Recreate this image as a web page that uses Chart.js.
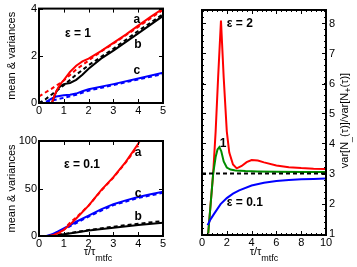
<!DOCTYPE html>
<html lang="en">
<head>
<meta charset="UTF-8">
<title>Mean, variances and variance ratio</title>
<script src="https://cdn.jsdelivr.net/npm/chart.js"></script>
<style>
    body { margin: 0; padding: 0; background: #fff; }
    canvas { position: absolute; }
</style>
</head>
<body>
<canvas id="topLeft" width="175" height="125" style="left:0;top:0"></canvas>
<canvas id="bottomLeft" width="175" height="142" style="left:0;top:125px"></canvas>
<canvas id="right" width="177" height="267" style="left:180px;top:0"></canvas>

<script>
// tick values
const leftTicksX = [0, 1, 2, 3, 4, 5];
const topTicksY = [0, 2, 4];
const bottomTicksY = [0, 50, 100];
const rightTicksX = [0, 2, 4, 6, 8, 10];
const rightTicksY = [1, 2, 3, 4, 5, 6, 7, 8];

// eps = 1 (top left)
const e1_aX = [0.52, 0.6, 0.7, 0.8, 0.9, 1.0, 1.25, 1.5, 1.75, 2.0, 2.5, 3.0, 3.5, 4.0, 4.5, 5.0];
const e1_aY = [0, 0.25, 0.5, 0.7, 0.85, 0.97, 1.32, 1.58, 1.76, 1.88, 2.2, 2.55, 2.9, 3.28, 3.65, 4.0];
const e1_aDashX = [0, 0.5, 1.0, 1.5, 2.0, 2.5, 3.0, 4.0, 5.0];
const e1_aDashY = [0.28, 0.6, 0.95, 1.42, 1.8, 2.18, 2.52, 3.22, 3.95];
const e1_bX = [0.52, 0.6, 0.7, 0.8, 0.9, 1.0, 1.25, 1.5, 1.75, 2.0, 2.5, 3.0, 4.0, 5.0];
const e1_bY = [0, 0.25, 0.48, 0.65, 0.74, 0.8, 0.85, 0.98, 1.2, 1.45, 1.88, 2.22, 2.95, 3.69];
const e1_bDashX = [0, 0.25, 0.5, 0.75, 1.0, 1.5, 2.0, 3.0, 4.0, 5.0];
const e1_bDashY = [0, 0.15, 0.35, 0.55, 0.75, 1.2, 1.6, 2.3, 3.05, 3.76];
const e1_cX = [0.3, 0.5, 0.7, 1.0, 1.25, 1.5, 1.75, 2.0, 3.0, 4.0, 5.0];
const e1_cY = [0.05, 0.18, 0.28, 0.33, 0.35, 0.4, 0.5, 0.58, 0.8, 1.04, 1.28];
const e1_cDashX = [0, 0.5, 1.0, 1.5, 2.0, 3.0, 4.0, 5.0];
const e1_cDashY = [0, 0.1, 0.22, 0.35, 0.52, 0.76, 1.0, 1.23];

// eps = 0.1 (bottom left)
const e01_aX = [0.4, 0.6, 0.8, 1.0, 1.25, 1.5, 2.0, 2.5, 3.0, 3.5, 4.0, 4.06];
const e01_aY = [0, 1.2, 3.5, 6.5, 12, 18.5, 32, 48, 62, 78, 97, 100];
const e01_aDashX = [0.78, 1.0, 1.25, 1.5, 2.0, 2.5, 3.0, 3.5, 4.0];
const e01_aDashY = [0, 7, 14, 19.5, 32, 47.5, 61.5, 77.5, 95];
const e01_cX = [0.3, 0.5, 0.75, 1.0, 1.5, 2.0, 2.5, 3.0, 3.5, 4.0, 4.5, 5.0];
const e01_cY = [0, 1.5, 4.5, 8, 15, 21.5, 28, 33.5, 37.5, 41, 44, 46.5];
const e01_cDashX = [0.4, 1.0, 1.5, 2.0, 3.0, 4.0, 5.0];
const e01_cDashY = [0, 7, 13.5, 20.5, 32.5, 40, 45.5];
const e01_bX = [0.35, 0.75, 1.0, 1.5, 2.0, 3.0, 4.0, 5.0];
const e01_bY = [0, 0.8, 1.8, 3.8, 5.8, 8.8, 11.5, 14];
const e01_bDashX = [0.5, 1.0, 2.0, 3.0, 4.0, 5.0];
const e01_bDashY = [0, 2, 6.3, 9.8, 12.9, 15.8];

// variance ratio (right)
const r2X = [0.5, 0.7, 0.9, 1.1, 1.3, 1.53, 1.75, 2.0, 2.2, 2.5, 2.8, 3.2, 3.6, 4.0, 4.5, 5, 6, 7, 8, 9, 10];
const r2Y = [1.0, 2.0, 3.0, 4.4, 6.2, 8.1, 6.2, 4.4, 3.7, 3.3, 3.17, 3.25, 3.38, 3.45, 3.43, 3.37, 3.27, 3.21, 3.18, 3.16, 3.15];
const r1X = [0.5, 0.7, 0.9, 1.1, 1.25, 1.4, 1.55, 1.75, 2.0, 2.3, 2.7, 3.5, 4.5, 6, 8, 10];
const r1Y = [1.0, 2.0, 3.0, 3.55, 3.8, 3.88, 3.75, 3.4, 3.2, 3.13, 3.1, 3.08, 3.07, 3.06, 3.05, 3.05];
const r01X = [0.45, 0.7, 1.0, 1.5, 2.0, 2.5, 3.0, 4.0, 5.0, 6.0, 7.0, 8.0, 9.0, 10];
const r01Y = [1.28, 1.48, 1.67, 1.98, 2.18, 2.33, 2.44, 2.6, 2.69, 2.75, 2.78, 2.81, 2.82, 2.83];
const refX = [0, 10];
const refY = [3, 3];

const FONT = '"Liberation Sans", Arial, sans-serif';
Chart.defaults.font.family = FONT;
Chart.defaults.color = '#000';

function pts(xs, ys) {
    return xs.map((x, i) => ({ x: x, y: ys[i] }));
}

function line(xs, ys, color, dashed) {
    return {
        data: pts(xs, ys),
        borderColor: color,
        borderWidth: 2,
        borderDash: dashed ? [4, 3] : [],
        pointRadius: 0,
        fill: false,
        tension: 0
    };
}

function fixTicks(vals) {
    return function (scale) { scale.ticks = vals.map(v => ({ value: v })); };
}

// draws frame, inward tick marks, in-plot labels and axis titles
function overlay(cfg) {
    return {
        id: 'overlay',
        afterDraw(chart) {
            const ctx = chart.ctx, a = chart.chartArea;
            const sx = chart.scales.x, sy = chart.scales.y;
            ctx.save();
            ctx.strokeStyle = '#000';
            ctx.lineWidth = 1;

            function tickX(v, len) {
                const p = Math.round(sx.getPixelForValue(v)) + 0.5;
                ctx.beginPath();
                ctx.moveTo(p, a.bottom); ctx.lineTo(p, a.bottom - len);
                ctx.moveTo(p, a.top); ctx.lineTo(p, a.top + len);
                ctx.stroke();
            }
            function tickY(v, len) {
                const p = Math.round(sy.getPixelForValue(v)) + 0.5;
                ctx.beginPath();
                ctx.moveTo(a.left, p); ctx.lineTo(a.left + len, p);
                ctx.moveTo(a.right, p); ctx.lineTo(a.right - len, p);
                ctx.stroke();
            }
            if (cfg.minorX) {
                for (let v = sx.min; v <= sx.max + 1e-9; v += cfg.minorX) tickX(v, 2);
            }
            if (cfg.minorY) {
                for (let v = Math.ceil(sy.min / cfg.minorY) * cfg.minorY; v <= sy.max + 1e-9; v += cfg.minorY) tickY(v, 2);
            }
            cfg.ticksX.forEach(v => tickX(v, 4));
            cfg.ticksY.forEach(v => tickY(v, 4));

            ctx.lineWidth = 2;
            ctx.strokeRect(a.left, a.top, a.right - a.left, a.bottom - a.top);

            // labels placed in data coordinates
            ctx.fillStyle = '#000';
            ctx.font = 'bold 12px ' + FONT;
            ctx.textBaseline = 'middle';
            cfg.labels.forEach(l => {
                ctx.textAlign = l.align || 'center';
                ctx.fillText(l.text, sx.getPixelForValue(l.x), sy.getPixelForValue(l.y));
            });

            // x title with subscript
            if (cfg.xTitle) {
                ctx.font = '11px ' + FONT;
                const w1 = ctx.measureText('\u03c4/\u03c4').width;
                ctx.font = '9px ' + FONT;
                const w2 = ctx.measureText('mtfc').width;
                const x0 = (a.left + a.right) / 2 + cfg.xTitle.dx - (w1 + w2) / 2;
                const y0 = a.bottom + cfg.xTitle.dy;
                ctx.textAlign = 'left';
                ctx.font = '11px ' + FONT;
                ctx.fillText('\u03c4/\u03c4', x0, y0);
                ctx.font = '9px ' + FONT;
                ctx.fillText('mtfc', x0 + w1, y0 + 7);
            }

            // rotated y title (reads bottom to top), pieces may be subscripts
            if (cfg.yTitle) {
                const parts = cfg.yTitle.parts;
                let total = 0;
                parts.forEach(p => {
                    ctx.font = (p.sub ? '9px ' : '11px ') + FONT;
                    p.w = ctx.measureText(p.t).width;
                    total += p.w;
                });
                ctx.translate(cfg.yTitle.x, (a.top + a.bottom) / 2 + (cfg.yTitle.dy || 0));
                ctx.rotate(-Math.PI / 2);
                let cx = -total / 2;
                ctx.textAlign = 'left';
                parts.forEach(p => {
                    ctx.font = (p.sub ? '9px ' : '11px ') + FONT;
                    ctx.fillText(p.t, cx, p.sub ? 4 : 0);
                    cx += p.w;
                });
            }
            ctx.restore();
        }
    };
}

function makePanel(id, datasets, sc, cfg) {
    return new Chart(document.getElementById(id), {
        type: 'line',
        data: { datasets: datasets },
        options: {
            responsive: false,
            animation: false,
            layout: { padding: sc.padding },
            plugins: { legend: { display: false }, tooltip: { enabled: false } },
            scales: {
                x: {
                    type: 'linear',
                    min: sc.xMin, max: sc.xMax,
                    grid: { display: false, drawTicks: false },
                    border: { display: false },
                    ticks: { font: { size: 11 }, padding: 1, maxRotation: 0, color: '#000' },
                    afterBuildTicks: fixTicks(cfg.ticksX),
                    afterFit: s => { s.height = sc.xHeight; }
                },
                y: {
                    type: 'linear',
                    position: sc.yPos,
                    min: sc.yMin, max: sc.yMax,
                    grid: { display: false, drawTicks: false },
                    border: { display: false },
                    ticks: { font: { size: 11 }, padding: sc.yPad, color: '#000' },
                    afterBuildTicks: fixTicks(cfg.ticksY),
                    afterFit: s => { s.width = sc.yWidth; }
                }
            }
        },
        plugins: [overlay(cfg)]
    });
}

const meanTitle = { x: 12, parts: [{ t: 'mean & variances' }] };

makePanel('topLeft', [
    line(e1_aX, e1_aY, '#ff0000', false),
    line(e1_bX, e1_bY, '#000000', false),
    line(e1_cX, e1_cY, '#0000ff', false),
    line(e1_aDashX, e1_aDashY, '#ff0000', true),
    line(e1_bDashX, e1_bDashY, '#000000', true),
    line(e1_cDashX, e1_cDashY, '#0000ff', true)
], {
    padding: { left: 0, right: 12, top: 8, bottom: 0 },
    xMin: 0, xMax: 5, yMin: 0, yMax: 4,
    xHeight: 22, yWidth: 39, yPos: 'left', yPad: 2
}, {
    ticksX: leftTicksX, ticksY: topTicksY,
    labels: [
        { text: 'a', x: 3.95, y: 3.54 },
        { text: 'b', x: 3.99, y: 2.48 },
        { text: 'c', x: 3.95, y: 1.35 },
        { text: '\u03b5 = 1', x: 1.57, y: 2.95 }
    ],
    yTitle: meanTitle
});

makePanel('bottomLeft', [
    line(e01_aX, e01_aY, '#ff0000', false),
    line(e01_bX, e01_bY, '#000000', false),
    line(e01_cX, e01_cY, '#0000ff', false),
    line(e01_aDashX, e01_aDashY, '#ff0000', true),
    line(e01_bDashX, e01_bDashY, '#000000', true),
    line(e01_cDashX, e01_cDashY, '#0000ff', true)
], {
    padding: { left: 0, right: 12, top: 16, bottom: 0 },
    xMin: 0, xMax: 5, yMin: 0, yMax: 100,
    xHeight: 31, yWidth: 39, yPos: 'left', yPad: 2
}, {
    ticksX: leftTicksX, ticksY: bottomTicksY,
    labels: [
        { text: 'a', x: 4.0, y: 88 },
        { text: 'c', x: 4.0, y: 45 },
        { text: 'b', x: 4.0, y: 20 },
        { text: '\u03b5 = 0.1', x: 1.73, y: 75 }
    ],
    xTitle: { dx: -3, dy: 16 },
    yTitle: meanTitle
});

makePanel('right', [
    line(refX, refY, '#000000', true),
    line(r01X, r01Y, '#0000ff', false),
    line(r1X, r1Y, '#008c00', false),
    line(r2X, r2Y, '#ff0000', false)
], {
    padding: { left: 22, right: 0, top: 10, bottom: 0 },
    xMin: 0, xMax: 10, yMin: 0.95, yMax: 8.45,
    xHeight: 32, yWidth: 31, yPos: 'right', yPad: 3
}, {
    ticksX: rightTicksX, ticksY: rightTicksY,
    minorX: 0.4, minorY: 0.2,
    labels: [
        { text: '\u03b5 = 2', x: 2.0, y: 8.01, align: 'left' },
        { text: '1', x: 1.7, y: 3.98 },
        { text: '\u03b5 = 0.1', x: 2.0, y: 2.04, align: 'left' }
    ],
    xTitle: { dx: 0, dy: 17 },
    yTitle: {
        x: 165, dy: -2,
        parts: [
            { t: 'var[N' }, { t: '_', sub: true }, { t: '(\u03c4)]/var[N' },
            { t: '+', sub: true }, { t: '(\u03c4)]' }
        ]
    }
});
</script>
</body>
</html>
